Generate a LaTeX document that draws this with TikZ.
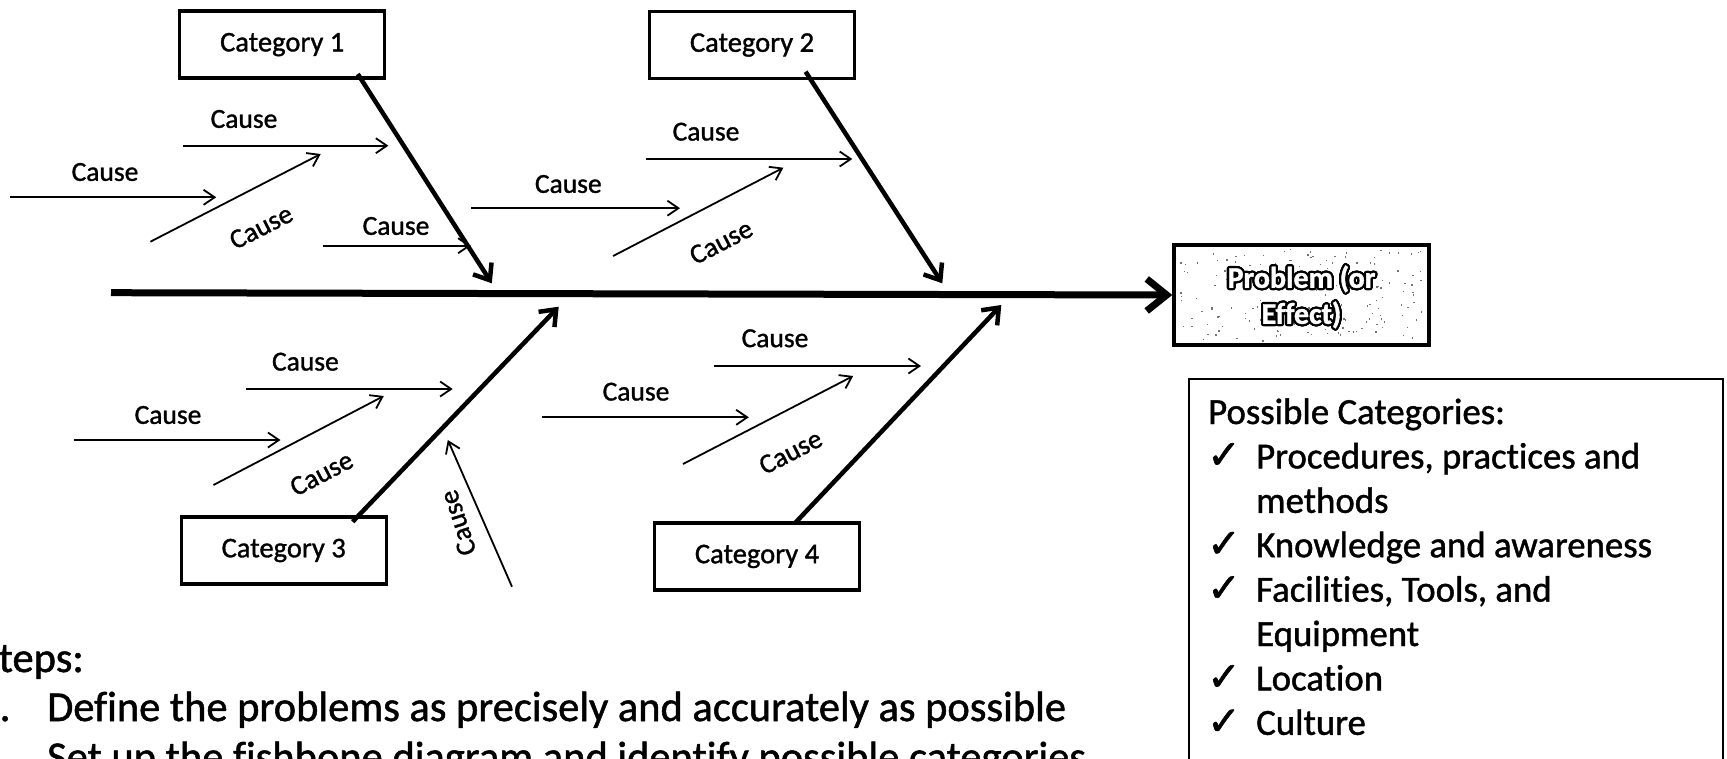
\documentclass[tikz,border=0pt]{standalone}
\usepackage{fontspec}
\setmainfont{Carlito}[FakeBold=1.2,Ligatures=NoCommon]
\newfontfamily\symfont{DejaVu Sans}[FakeBold=1.5]
\usepackage[copies]{contour}
\contourlength{2.2pt}
\contournumber{24}
\usetikzlibrary{arrows.meta}

\begin{document}
\begin{tikzpicture}[x=1pt,y=-1pt,
  cause/.style={line width=1.8pt, -{Straight Barb[length=11pt,width=15pt]}},
  bone/.style={line width=4.5pt, -{Straight Barb[length=14pt,width=22pt]}},
  spine/.style={line width=7pt, -{Straight Barb[length=20pt,width=32pt]}},
  catbox/.style={draw, line width=3.4pt, minimum width=205pt, minimum height=67pt,
    inner sep=0pt, font=\fontsize{28.5}{32}\selectfont},
  lbl/.style={font=\fontsize{27.5}{32}\selectfont, inner sep=0pt},
  listtxt/.style={font=\fontsize{36.8}{44}\selectfont, anchor=base west, inner sep=0pt},
  chk/.style={font=\symfont\fontsize{40}{40}\selectfont, anchor=base west, inner sep=0pt},
  steptxt/.style={font=\fontsize{42.5}{50}\selectfont, anchor=base west, inner sep=0pt}]

\useasboundingbox (0,0) rectangle (1727,758);
\clip (0,0) rectangle (1727,758);

% ---- effect box with speckled background ----
\node[draw, line width=3.4pt, fill=white, minimum width=255pt, minimum height=100pt,
  inner sep=0pt] (prob) at (1301.5,295) {};
\pgfmathsetseed{11}
\foreach \i in {1,...,170}{
  \pgfmathsetmacro\px{1301.5+122*rand}
  \pgfmathsetmacro\py{295+46*rand}
  \fill[black!55] (\px,\py) rectangle ++(1.4,1.4);
}
\node[text=white, font=\bfseries\fontsize{30}{36}\selectfont, align=center,
  inner sep=0pt] (probtxt) at (1301.5,298) {\contour{black}{Problem (or}\\\contour{black}{Effect)}};

% ---- category boxes ----
\node[catbox] (cat1) at (282.2,44.6) {Category 1};
\node[catbox] (cat2) at (752,45) {Category 2};
\node[catbox] (cat3) at (283.7,550.5) {Category 3};
\node[catbox] (cat4) at (757,556.4) {Category 4};

% ---- spine ----
\coordinate (tail) at (111,292.7);
\draw[spine] (tail) -- (prob.west);

% ---- main bones ----
\coordinate (s1) at (491.8,283.3);
\coordinate (s2) at (942.3,283.3);
\coordinate (s3) at (558.7,306.7);
\coordinate (s4) at (1001.3,305);
\draw[bone] ([xshift=75.6pt,yshift=-29.4pt]cat1.center) -- (s1);
\draw[bone] ([xshift=53.6pt,yshift=-26.7pt]cat2.center) -- (s2);
\draw[bone] ([xshift=69pt,yshift=28.8pt]cat3.center) -- (s3);
\draw[bone] ([xshift=37.7pt,yshift=33pt]cat4.center) -- (s4);

% ---- causes, upper left ----
\draw[cause] (183,145.7) -- (388.4,145.7);
\node[lbl] (c1a) at (244,119) {Cause};
\draw[cause] (9.6,197.3) -- (216.2,197.3);
\node[lbl] (c1b) at (105,172) {Cause};
\draw[cause] (150.4,241.7) -- (320.7,154);
\node[lbl, rotate=27] (c1c) at (261,227) {Cause};
\draw[cause] (322.6,245.7) -- (470.7,245.7);
\node[lbl] (c1d) at (396,226) {Cause};

% ---- causes, upper right ----
\draw[cause] (645.7,159) -- (852.3,159);
\node[lbl] (c2a) at (706,131.7) {Cause};
\draw[cause] (471.4,208.2) -- (680,208.2);
\node[lbl] (c2b) at (568.3,184) {Cause};
\draw[cause] (613.1,256) -- (783.4,167.7);
\node[lbl, rotate=27.4] (c2c) at (721,242) {Cause};

% ---- causes, lower left ----
\draw[cause] (246,389) -- (452.7,389);
\node[lbl] (c3a) at (305.4,361.7) {Cause};
\draw[cause] (73.9,440) -- (280.5,440);
\node[lbl] (c3b) at (168,415) {Cause};
\draw[cause] (213.5,485) -- (383.8,396);
\node[lbl, rotate=27.6] (c3c) at (321.5,473.5) {Cause};
\draw[cause] (512,586.7) -- (447.8,440);
\node[lbl, rotate=108] (c3d) at (458,523) {Cause};

% ---- causes, lower right ----
\draw[cause] (714.3,366) -- (921,366);
\node[lbl] (c4a) at (775,338.3) {Cause};
\draw[cause] (542,417.3) -- (748.8,417.3);
\node[lbl] (c4b) at (636,391.7) {Cause};
\draw[cause] (683,464) -- (853.2,376);
\node[lbl, rotate=27.3] (c4c) at (790.5,452) {Cause};

% ---- list of possible categories ----
\node[draw, line width=2.2pt, minimum width=534pt, minimum height=420pt,
  anchor=north west, inner sep=0pt] (pcbox) at (1188,378) {};
\node[listtxt] (pc0) at (1208,424) {Possible Categories:};
\node[chk] (k1) at (1207,468.4) {✓};
\node[listtxt] (pc1) at (1256,468.4) {Procedures, practices and};
\node[listtxt] (pc1b) at (1256,512.8) {methods};
\node[chk] (k2) at (1207,557.2) {✓};
\node[listtxt] (pc2) at (1256,557.2) {Knowledge and awareness};
\node[chk] (k3) at (1207,601.6) {✓};
\node[listtxt] (pc3) at (1256,601.6) {Facilities, Tools, and};
\node[listtxt] (pc3b) at (1256,646) {Equipment};
\node[chk] (k4) at (1207,690.4) {✓};
\node[listtxt] (pc4) at (1256,690.4) {Location};
\node[chk] (k5) at (1207,734.8) {✓};
\node[listtxt] (pc5) at (1256,734.8) {Culture};

% ---- steps ----
\node[steptxt] (st0) at (-21,672) {Steps:};
\node[steptxt] (n1) at (-22,721) {1.};
\node[steptxt] (st1) at (47,721) {Define the problems as precisely and accurately as possible};
\node[steptxt] (n2) at (-22,771) {2.};
\node[steptxt] (st2) at (47,771) {Set up the fishbone diagram and identify possible categories};
\end{tikzpicture}
\end{document}
